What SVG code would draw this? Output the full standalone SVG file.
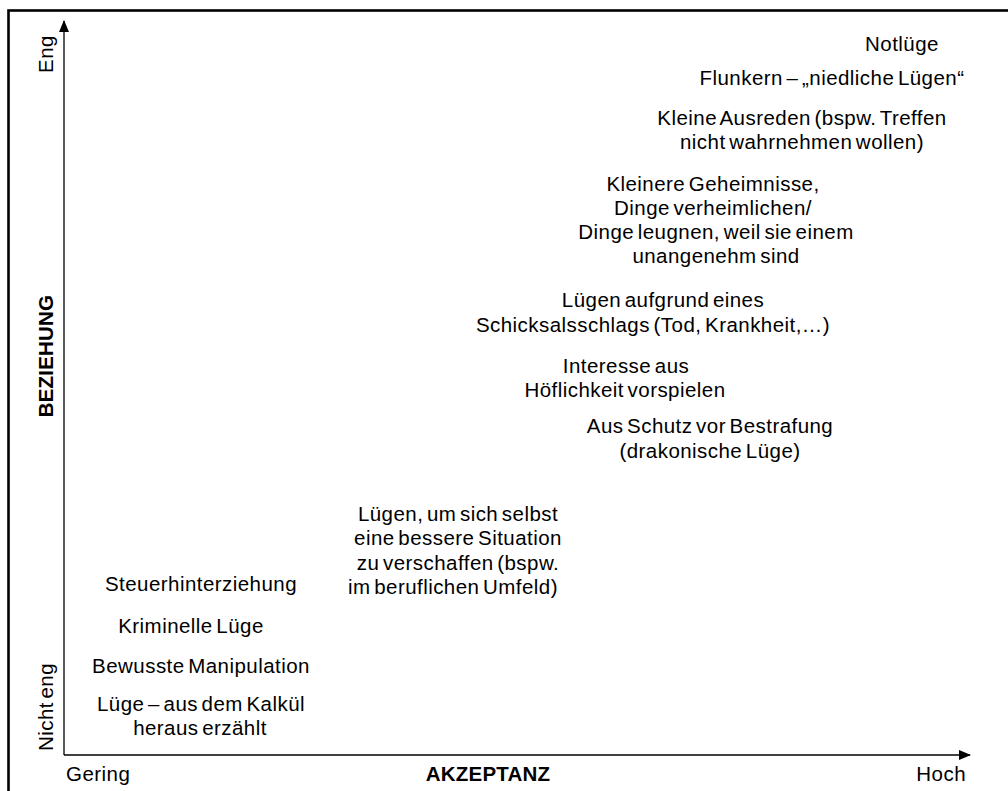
<svg xmlns="http://www.w3.org/2000/svg" width="1008" height="791" viewBox="0 0 1008 791">
<defs>
<style>
text{font-family:"Liberation Sans",Arial,sans-serif;font-size:20.5px;fill:#000;letter-spacing:0.45px;word-spacing:-2.5px}
.c{text-anchor:middle}
.b{font-weight:bold;letter-spacing:0.2px}
.axis{stroke:#000;stroke-width:1.3;fill:none}
</style>
<marker id="ah" markerWidth="12" markerHeight="10" refX="11" refY="5" orient="auto" markerUnits="userSpaceOnUse">
<path d="M0,0 L12,5 L0,10 Z" fill="#000"/>
</marker>
</defs>
<rect x="0" y="0" width="1008" height="791" fill="#fff"/>
<rect x="8.5" y="10.5" width="1020" height="800" fill="none" stroke="#000" stroke-width="2.6"/>
<g id="connectors">
<line class="axis" x1="64" y1="755" x2="64" y2="21" marker-end="url(#ah)"/>
<line class="axis" x1="64" y1="755" x2="970" y2="755" marker-end="url(#ah)"/>
</g>
<g id="axis-labels">
<text transform="translate(53,54) rotate(-90)" class="c">Eng</text>
<text transform="translate(53,707) rotate(-90)" class="c">Nicht eng</text>
<text transform="translate(53,356) rotate(-90)" class="c b">BEZIEHUNG</text>
<text x="66" y="781">Gering</text>
<text x="488" y="781" class="c b">AKZEPTANZ</text>
<text x="966" y="781" style="text-anchor:end">Hoch</text>
</g>
<g id="n1"><text x="902" y="51" class="c">Notlüge</text></g>
<g id="n2"><text x="832" y="85" class="c">Flunkern – „niedliche Lügen“</text></g>
<g id="n3"><text class="c"><tspan x="802" y="125">Kleine  Ausreden (bspw. Treffen</tspan><tspan x="802" y="149">nicht wahrnehmen wollen)</tspan></text></g>
<g id="n4"><text class="c"><tspan x="713" y="191">Kleinere Geheimnisse,</tspan><tspan x="713" y="215">Dinge verheimlichen/</tspan><tspan x="716" y="239">Dinge leugnen, weil sie einem</tspan><tspan x="716" y="263">unangenehm sind</tspan></text></g>
<g id="n5"><text class="c"><tspan x="663" y="307">Lügen aufgrund eines</tspan><tspan x="653" y="332">Schicksalsschlags (Tod, Krankheit,…)</tspan></text></g>
<g id="n6"><text class="c"><tspan x="626" y="373">Interesse aus</tspan><tspan x="625" y="397">Höflichkeit vorspielen</tspan></text></g>
<g id="n7"><text class="c"><tspan x="710" y="433">Aus Schutz vor Bestrafung</tspan><tspan x="710" y="458">(drakonische Lüge)</tspan></text></g>
<g id="n8"><text class="c"><tspan x="458" y="521">Lügen, um sich selbst</tspan><tspan x="458" y="545">eine bessere Situation</tspan><tspan x="458" y="570">zu verschaffen (bspw.</tspan><tspan x="453" y="594">im beruflichen Umfeld)</tspan></text></g>
<g id="n9"><text x="201" y="591" class="c">Steuerhinterziehung</text></g>
<g id="n10"><text x="191" y="633" class="c">Kriminelle Lüge</text></g>
<g id="n11"><text x="201" y="673" class="c">Bewusste Manipulation</text></g>
<g id="n12"><text class="c"><tspan x="201" y="711">Lüge – aus dem Kalkül</tspan><tspan x="200" y="735">heraus erzählt</tspan></text></g>
</svg>
